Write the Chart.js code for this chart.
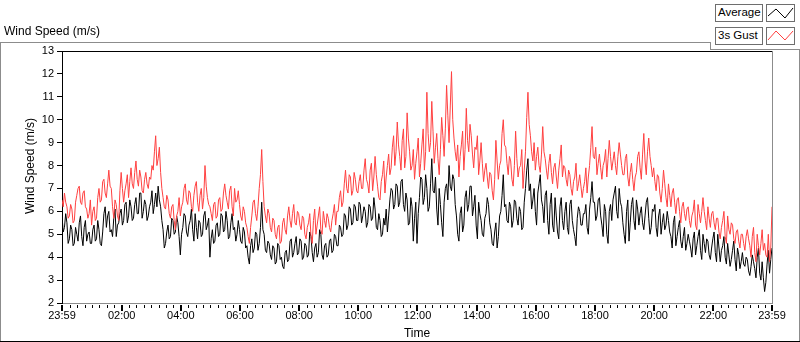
<!DOCTYPE html>
<html><head><meta charset="utf-8">
<script src="https://cdn.jsdelivr.net/npm/chart.js@4/dist/chart.umd.min.js"></script>
<style>
html,body{margin:0;padding:0;background:#fff;}
#wrap{position:relative;width:800px;height:342px;overflow:hidden;font-family:"Liberation Sans",Arial,sans-serif;color:#000;}
#c{position:absolute;left:0;top:0;}
.ln{position:absolute;}
.lbl{position:absolute;font-size:11.5px;line-height:15px;box-sizing:border-box;border:1px solid #6e6e6e;background:#fff;padding-left:2px;white-space:nowrap;}
.sw{position:absolute;box-sizing:border-box;border:1px solid #6e6e6e;background:#fff;}
#ptitle{position:absolute;left:4px;top:24px;font-size:12px;white-space:nowrap;}
</style></head>
<body><div id="wrap">
<canvas id="c" width="800" height="342"></canvas>
<div id="ptitle">Wind Speed (m/s)</div>
<div class="ln" style="left:0;top:42px;width:711px;height:1px;background:#8c8c8c"></div>
<div class="ln" style="left:710px;top:42px;width:1px;height:8px;background:#8c8c8c"></div>
<div class="ln" style="left:710px;top:49px;width:90px;height:1px;background:#8c8c8c"></div>
<div class="ln" style="left:0;top:42px;width:1px;height:300px;background:#8c8c8c"></div>
<div class="ln" style="left:799px;top:49px;width:1px;height:293px;background:#8c8c8c"></div>
<div class="ln" style="left:0;top:341px;width:800px;height:1px;background:#000"></div>
<div class="lbl" style="left:715px;top:4px;width:48px;height:18px;">Average</div>
<div class="sw" style="left:766px;top:4px;width:29px;height:18px;"><svg width="27" height="16" style="position:absolute;left:0;top:0"><polyline points="1,11 9,4 18,13 26,3" fill="none" stroke="#000" stroke-width="1"/></svg></div>
<div class="lbl" style="left:715px;top:27px;width:48px;height:18px;">3s Gust</div>
<div class="sw" style="left:766px;top:27px;width:29px;height:18px;"><svg width="27" height="16" style="position:absolute;left:0;top:0"><polyline points="1,12 9,3 18,12 26,3" fill="none" stroke="#ff4040" stroke-width="1"/></svg></div>
</div>
<script>
// ---- data: samples every 2.5 minutes from 23:59 to 23:59 ----
const startMinute = -1;
const endMinute = 1439;
const avgSpeed = [
5.8,5.1,5.3,5.9,5.5,4.6,4.8,5.4,5.2,4.5,4.6,5.3, 5.0,4.7,5.5,5.8,4.9,4.5,5.3,5.6,4.7,5.0,5.1,4.6,
4.6,5.2,5.4,4.7,4.8,5.6,5.2,4.6,4.5,5.1,5.9,6.2, 5.3,5.8,6.0,5.1,5.2,4.9,5.7,6.1,4.9,5.4,5.5,5.9,
6.1,5.4,5.6,6.3,6.4,5.5,5.8,6.5,6.2,5.6,5.7,6.3, 6.6,5.9,5.9,6.8,6.8,5.7,6.0,6.5,6.3,5.6,5.8,6.2,
6.4,6.9,5.9,6.3,6.8,6.2,7.1,6.5,6.2,5.6,5.2,4.4, 4.6,5.1,5.4,4.8,4.9,5.7,5.6,5.0,5.1,5.8,5.5,4.9,
4.1,5.0,5.3,5.9,5.8,5.1,4.9,5.4,5.6,6.1,5.2,4.7, 5.9,5.3,4.8,5.6,5.5,4.9,5.0,5.8,6.0,5.2,5.4,5.7,
4.0,4.8,5.2,4.6,4.7,5.4,5.5,4.9,5.0,5.9,5.8,5.1, 5.2,6.0,5.6,4.8,4.9,5.5,5.9,5.2,5.3,4.7,5.0,5.6,
5.2,4.7,4.6,5.3,5.1,4.4,4.5,4.0,3.7,4.5,4.8,4.2, 4.4,5.1,5.0,4.3,4.6,5.3,6.4,5.2,5.0,4.3,4.2,4.7,
4.6,4.1,3.9,4.5,4.4,3.7,3.8,4.6,4.5,3.9,4.0,3.6, 3.5,4.2,4.3,3.8,3.9,4.7,4.8,4.0,4.2,4.6,4.9,4.1,
4.2,4.8,4.7,3.9,4.0,4.6,4.5,4.0,4.1,5.1,4.9,4.2, 3.8,4.4,4.6,4.0,4.2,5.2,5.0,4.1,3.9,4.5,4.6,4.0,
4.1,4.7,4.8,4.2,4.3,5.0,4.9,4.5,4.5,5.4,5.3,4.9, 5.0,5.9,5.8,5.2,5.4,6.2,6.1,5.4,5.5,6.3,6.2,5.6,
5.6,6.4,6.3,5.5,5.8,6.2,6.0,5.3,5.5,6.3,6.2,5.6, 5.7,6.6,6.1,5.3,5.2,5.9,5.6,4.9,5.0,5.7,5.4,6.1,
5.1,5.8,6.5,7.0,6.9,6.1,6.3,7.2,7.1,6.2,6.4,7.3, 7.4,6.3,6.0,6.8,6.5,5.4,5.5,6.6,6.2,4.7,5.7,6.4,
4.6,5.9,6.6,7.5,7.4,6.3,6.6,7.6,7.0,6.0,6.2,7.2, 8.3,6.9,6.8,7.5,6.1,5.4,7.0,6.3,5.5,4.9,6.4,7.0,
7.2,6.5,8.0,7.1,6.9,7.6,7.4,6.3,5.8,5.0,4.7,5.9, 6.2,5.1,5.4,6.6,6.9,6.0,6.3,7.1,7.1,5.8,6.2,6.7,
5.4,4.8,6.4,5.9,5.6,5.0,4.9,5.7,5.9,6.6,6.3,5.5, 5.2,4.6,4.5,5.1,5.5,4.4,4.9,5.8,6.0,6.7,7.6,6.2,
6.3,5.6,5.5,6.4,6.2,5.3,5.6,6.5,6.4,5.7,5.4,6.2, 6.0,5.2,5.3,6.4,7.0,7.8,8.3,6.9,7.2,6.1,6.5,7.0,
6.0,5.4,6.8,7.2,7.6,6.5,6.2,5.5,6.7,6.9,5.6,5.0, 6.3,6.8,5.4,5.1,6.6,5.8,5.1,4.8,6.2,6.6,5.6,5.2,
6.0,6.4,5.3,5.0,6.3,6.5,5.6,5.2,4.9,4.5,5.7,6.2, 6.0,5.4,5.4,5.9,5.9,6.3,5.3,5.0,6.1,6.6,7.3,6.4,
6.4,5.6,5.8,6.5,6.6,5.8,5.4,4.9,6.3,6.0,5.0,4.6, 6.0,6.3,5.6,6.5,6.8,7.1,6.0,5.7,7.0,6.4,6.2,5.5,
5.0,4.6,6.0,6.5,4.7,5.5,6.3,6.6,5.6,5.2,6.5,6.1, 5.4,5.9,6.2,5.5,5.2,5.8,6.4,6.6,5.7,5.0,5.3,6.1,
6.0,6.3,5.3,4.9,5.8,6.1,5.0,5.5,5.9,5.2,5.4,6.0, 5.6,5.1,4.9,4.4,5.5,5.8,4.5,4.9,5.3,5.6,4.7,4.4,
4.9,5.3,4.3,4.6,5.0,4.7,4.4,4.0,4.8,5.1,4.1,4.5, 4.9,5.2,4.3,3.9,5.0,4.6,4.2,4.8,4.7,4.1,3.9,4.4,
4.8,5.1,4.2,3.8,5.0,4.4,3.8,4.3,4.5,4.9,4.0,3.7, 4.6,4.1,3.6,3.9,4.3,4.7,3.9,3.4,4.4,4.1,3.5,3.8,
4.2,3.7,3.6,4.0,3.9,3.4,3.2,3.6,4.1,3.8,3.5,3.1, 4.0,4.4,3.3,3.0,3.8,3.1,2.5,2.9,3.7,4.3,3.3,3.9,
4.4];
const gustSpeed = [
6.5,6.2,6.8,6.4,6.2,5.7,5.8,6.3,6.1,5.5,5.6,6.4, 6.7,7.0,7.1,6.4,6.3,6.8,6.9,6.2,6.1,5.7,5.9,6.5,
5.4,6.0,6.2,5.6,5.7,6.6,7.0,6.4,6.5,7.3,7.4,6.8, 6.6,7.2,7.8,7.1,7.0,6.2,5.7,6.5,6.3,5.8,5.6,6.9,
7.7,7.0,6.4,6.9,7.2,7.6,6.6,7.3,7.9,7.2,7.0,7.7, 8.2,7.4,7.1,7.8,7.5,6.9,6.8,7.4,7.7,7.2,7.0,7.5,
7.4,8.0,7.8,8.6,9.3,8.0,8.3,8.8,7.7,7.0,6.6,6.2, 6.1,6.7,6.5,5.9,5.7,6.2,6.3,5.6,5.2,5.8,6.0,6.6,
5.8,6.2,6.4,7.0,7.2,6.5,6.3,6.9,6.8,6.2,6.0,6.7, 7.1,7.3,6.4,6.0,6.7,7.0,6.1,6.6,8.0,7.1,6.6,6.3,
6.2,5.9,5.6,6.3,6.4,5.7,5.8,6.5,6.6,6.0,6.1,6.8, 7.2,6.7,6.4,6.1,6.9,7.1,6.2,5.8,7.0,6.4,6.5,6.9,
6.3,5.8,5.6,6.2,6.0,5.5,5.3,4.9,4.6,5.3,5.8,6.4, 6.5,5.9,5.6,6.2,7.0,7.6,8.7,7.3,6.2,5.8,5.5,6.1,
5.9,5.3,5.1,5.7,5.6,5.0,4.8,5.3,5.4,4.6,4.7,5.5, 5.7,5.2,5.0,5.8,6.2,5.6,5.3,5.9,6.3,5.5,5.4,6.0,
5.9,5.4,5.2,5.8,5.7,5.0,4.8,5.3,5.5,5.9,4.9,4.6, 5.6,6.1,5.0,5.4,5.8,6.2,5.2,5.0,6.0,5.6,5.3,5.9,
5.7,5.3,5.1,5.6,5.9,6.3,5.4,6.0,6.0,6.6,6.9,6.2, 6.4,7.2,7.8,7.0,6.8,7.6,7.5,6.7,6.9,7.7,7.4,6.9,
6.8,7.3,7.6,7.0,7.0,7.8,8.3,7.4,7.2,6.8,7.8,8.1, 6.9,7.5,8.4,7.6,7.1,6.6,6.5,7.3,7.6,8.2,6.8,7.5,
8.0,8.5,7.6,7.9,8.8,9.3,8.0,8.6,9.9,8.9,8.4,7.8, 9.1,9.6,7.9,8.4,10.3,9.2,8.6,7.8,8.0,8.7,7.4,8.1,
8.6,9.2,7.5,8.1,8.9,9.6,7.8,8.6,11.2,9.4,8.6,9.0, 10.8,9.5,8.1,8.8,9.4,8.3,7.6,8.7,10.1,9.3,8.4,9.6,
11.5,10.2,9.0,10.6,12.1,10.0,9.2,8.6,8.2,8.9,7.5,8.4, 8.9,9.5,7.8,8.7,10.5,9.1,8.6,9.8,9.3,8.5,7.9,8.8,
8.7,9.3,7.6,8.2,9.0,8.1,7.3,7.8,8.1,7.5,7.0,7.7, 7.6,6.9,6.5,7.4,9.1,8.2,7.4,8.0,8.2,9.4,10.0,8.9,
8.8,8.1,7.6,8.4,8.2,7.4,7.1,8.0,9.5,8.3,7.5,7.9, 8.0,8.7,7.0,7.8,8.6,10.1,11.2,9.8,9.3,8.6,8.2,9.0,
7.8,8.4,8.8,8.0,7.7,8.5,9.7,8.6,8.3,7.8,7.4,8.1, 8.5,7.7,7.2,7.9,8.1,7.5,7.0,7.8,8.3,8.9,7.5,8.0,
7.9,7.4,7.1,7.8,7.6,7.0,6.7,7.3,7.5,8.1,6.9,7.2, 7.6,7.1,6.6,7.0,7.3,7.9,6.8,7.5,8.0,8.8,9.7,8.4,
8.3,8.8,7.6,8.1,8.5,7.9,7.4,8.0,8.2,8.7,7.5,8.3, 9.1,8.4,7.8,8.2,8.6,8.0,7.6,8.4,9.0,8.5,8.0,7.6,
7.6,8.3,8.5,7.5,7.1,7.7,8.1,7.4,6.9,7.5,7.7,8.4, 8.6,7.9,7.4,8.5,9.4,8.2,7.6,8.6,9.2,8.4,8.0,7.5,
7.9,7.3,6.9,7.6,7.5,6.8,6.4,7.0,7.8,7.2,6.6,6.2, 7.2,6.7,6.2,6.8,7.0,6.4,5.9,6.5,6.6,6.0,5.5,6.2,
6.4,5.9,5.6,6.1,6.2,5.6,5.3,5.8,6.0,6.5,5.4,5.2, 6.3,5.9,5.5,6.0,6.6,6.0,5.6,5.2,6.2,5.7,5.3,5.9,
6.0,5.5,5.2,5.7,5.7,5.1,4.8,5.3,5.6,6.0,4.9,4.6, 5.8,5.2,5.0,5.5,5.4,4.8,4.6,5.1,5.2,4.7,4.4,5.0,
5.0,4.6,4.3,4.9,5.2,4.8,4.5,4.0,4.9,5.3,4.2,3.8, 5.0,4.5,4.1,4.6,5.2,4.3,4.6,4.1,4.0,5.0,3.8,4.4,
6.2];
const xTickValues = [-1,120,240,360,480,600,720,840,960,1080,1200,1320,1439];
const xTickLabels = ['23:59','02:00','04:00','06:00','08:00','10:00','12:00','14:00','16:00','18:00','20:00','22:00','23:59'];
const minorStep = 15;
const yMin = 2, yMax = 13;
const yTitle = 'Wind Speed (m/s)';
const xTitle = 'Time';

const toPts = arr => {
  const step = (endMinute - startMinute) / (arr.length - 1);
  return arr.map((v, i) => ({x: startMinute + i * step, y: v}));
};

const FAMILY = '"Liberation Sans", Arial, sans-serif';
const FONT = {family: FAMILY, size: 11};

const framePlugin = {
  id: 'frame',
  afterDraw(chart) {
    const {ctx, chartArea: a} = chart;
    const xs = chart.scales.x;
    ctx.save();
    ctx.fillStyle = '#000';
    ctx.fillRect(a.left, a.top, a.right - a.left, 1);
    ctx.fillStyle = '#8c8c8c';
    ctx.fillRect(a.right, a.top, 1, a.bottom - a.top + 1);
    ctx.fillStyle = '#000';
    for (let m = minorStep; m < endMinute; m += minorStep) {
      const px = Math.round(xs.getPixelForValue(m));
      if (m % 120 === 0) ctx.fillRect(px - 1, a.bottom + 2, 2, 6);
      else ctx.fillRect(px, a.bottom + 2, 1, 3);
    }
    [startMinute, endMinute].forEach(v => {
      const px = Math.round(xs.getPixelForValue(v));
      ctx.fillRect(px - 1, a.bottom + 2, 2, 6);
    });
    // y axis title
    ctx.translate(31, 166);
    ctx.rotate(-Math.PI / 2);
    ctx.font = '12px ' + FAMILY;
    ctx.textAlign = 'center';
    ctx.textBaseline = 'middle';
    ctx.fillText(yTitle, 0, 0);
    ctx.restore();
  }
};

new Chart(document.getElementById('c'), {
  type: 'line',
  data: {
    datasets: [
      {label: 'Average', data: toPts(avgSpeed), borderColor: '#000000', borderWidth: 1, pointRadius: 0, tension: 0, order: 1},
      {label: '3s Gust', data: toPts(gustSpeed), borderColor: '#ff4040', borderWidth: 1, pointRadius: 0, tension: 0, order: 0}
    ]
  },
  options: {
    responsive: false,
    animation: false,
    events: [],
    layout: {padding: {left: 0, top: 51, right: 28, bottom: 0}},
    plugins: {legend: {display: false}, title: {display: false}, tooltip: {enabled: false}},
    scales: {
      x: {
        type: 'linear', min: startMinute, max: endMinute,
        afterFit(s) { s.height = 39; },
        afterBuildTicks(s) { s.ticks = xTickValues.map(v => ({value: v})); },
        ticks: {autoSkip: false, maxRotation: 0, padding: 6, color: '#000', font: FONT,
          callback: (v) => { const i = xTickValues.indexOf(v); return i >= 0 ? xTickLabels[i] : ''; }},
        grid: {display: true, drawOnChartArea: false, drawTicks: false},
        border: {display: true, color: '#8c8c8c', width: 1},
        title: {display: true, text: xTitle, color: '#000', font: {family: FAMILY, size: 12}, padding: {top: 0, bottom: 1}}
      },
      y: {
        min: yMin, max: yMax,
        afterFit(s) { s.width = 62; },
        ticks: {stepSize: 1, padding: 3, color: '#000', font: FONT},
        grid: {display: true, drawOnChartArea: false, drawTicks: true, tickLength: 5, color: '#000'},
        border: {display: true, color: '#000', width: 1},
        title: {display: false}
      }
    }
  },
  plugins: [framePlugin]
});
</script>
</body></html>
